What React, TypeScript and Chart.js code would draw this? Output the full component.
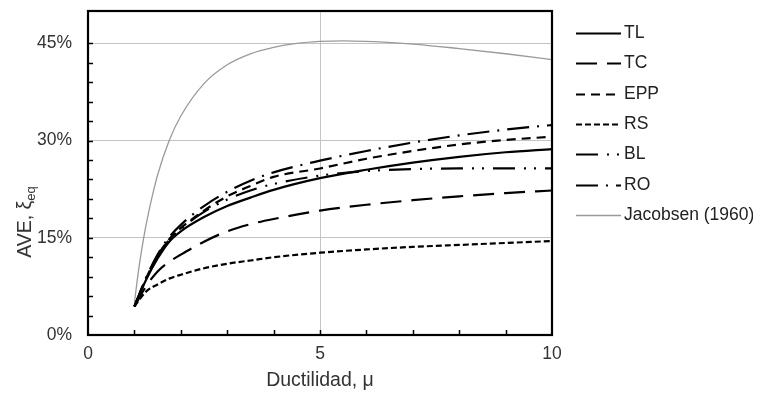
import { useEffect, useRef } from "react";
import { Chart, registerables } from "chart.js";

Chart.register(...registerables);

// ---- data ----
const MU = [1, 1.25, 1.5, 1.75, 2, 2.5, 3, 3.5, 4, 5, 6, 7, 8, 9, 10];
const TL = [4.4, 8.5, 11.8, 14.4, 16.0, 18.2, 19.9, 21.2, 22.4, 24.2, 25.5, 26.6, 27.5, 28.2, 28.7];
const TC = [4.4, 7.5, 9.8, 11.3, 12.4, 14.4, 16.0, 17.1, 17.9, 19.2, 20.1, 20.8, 21.4, 21.9, 22.3];
const EPP = [4.4, 8.7, 12.2, 14.8, 16.5, 19.2, 21.4, 23.0, 24.4, 25.7, 27.2, 28.4, 29.4, 30.1, 30.6];
const RS = [4.4, 6.7, 7.8, 8.7, 9.3, 10.3, 11.0, 11.5, 12.0, 12.7, 13.2, 13.6, 13.9, 14.2, 14.5];
const BL = [4.4, 8.7, 12.2, 14.7, 16.4, 19.0, 20.9, 22.3, 23.3, 24.6, 25.3, 25.6, 25.7, 25.7, 25.7];
const RO = [4.4, 8.8, 12.4, 15.1, 17.0, 19.9, 22.1, 23.8, 25.1, 26.9, 28.4, 29.7, 30.8, 31.7, 32.4];

const MU_J = [1, 1.1, 1.2, 1.3, 1.4, 1.5, 1.75, 2, 2.5, 3, 3.5, 4, 4.5, 5, 5.5, 6, 7, 8, 9, 10];
const JAC = [5.0, 10.5, 15.0, 18.7, 21.9, 24.7, 30.0, 33.8, 38.8, 41.7, 43.4, 44.4, 45.0, 45.3, 45.4, 45.3, 44.9, 44.2, 43.4, 42.5];

const SERIES_NAMES = ["TL", "TC", "EPP", "RS", "BL", "RO", "Jacobsen (1960)"];
const Y_LABELED = [0, 15, 30, 45];
const X_LABELED = [0, 5, 10];
const Y_GRID = [15, 30, 45];
const X_GRID = [5];
const X_TITLE = "Ductilidad, μ";
const Y_TITLE_MAIN = "AVE, ξ";
const Y_TITLE_SUB = "eq";

const FONT = "'Liberation Sans', Arial, sans-serif";
const TEXT = "#333333";
const GRID = "#c4c4c4";

const pts = (xs: number[], ys: number[]) => xs.map((x, i) => ({ x, y: ys[i] }));

const framePlugin = {
  id: "frameAndTicks",
  afterDraw(chart: any) {
    const { ctx, chartArea: a, scales } = chart;
    const xs = scales.x;
    const ys = scales.y;
    ctx.save();
    ctx.strokeStyle = "#000";
    ctx.lineWidth = 1.5;
    ctx.beginPath();
    ys.ticks.forEach((t: any) => {
      if (t.value <= 0 || t.value >= 50) return;
      const y = Math.round(ys.getPixelForValue(t.value)) + 0.5;
      ctx.moveTo(a.left, y);
      ctx.lineTo(a.left + 5, y);
    });
    xs.ticks.forEach((t: any) => {
      if (t.value <= 0 || t.value >= 10) return;
      const x = Math.round(xs.getPixelForValue(t.value)) + 0.5;
      ctx.moveTo(x, a.bottom);
      ctx.lineTo(x, a.bottom - 5);
    });
    ctx.stroke();
    ctx.lineWidth = 2.2;
    ctx.strokeRect(a.left, a.top, a.right - a.left, a.bottom - a.top);

    // axis titles
    ctx.fillStyle = TEXT;
    ctx.textBaseline = "middle";
    ctx.textAlign = "center";
    ctx.font = `19.5px ${FONT}`;
    ctx.fillText(X_TITLE, (a.left + a.right) / 2, 373);

    ctx.translate(16, 214);
    ctx.rotate(-Math.PI / 2);
    ctx.font = `19.5px ${FONT}`;
    const w1 = ctx.measureText(Y_TITLE_MAIN).width;
    ctx.font = `13px ${FONT}`;
    const w2 = ctx.measureText(Y_TITLE_SUB).width;
    const start = -(w1 + w2) / 2;
    ctx.textAlign = "left";
    ctx.textBaseline = "alphabetic";
    ctx.font = `19.5px ${FONT}`;
    ctx.fillText(Y_TITLE_MAIN, start, 7);
    ctx.font = `13px ${FONT}`;
    ctx.fillText(Y_TITLE_SUB, start + w1, 11);
    ctx.restore();

    // legend
    ctx.save();
    chart.data.datasets.forEach((ds: any, i: number) => {
      const y = Math.round(25 + i * 30.3) + 0.5;
      ctx.strokeStyle = ds.borderColor;
      ctx.lineWidth = ds.borderWidth;
      ctx.setLineDash(ds.borderDash || []);
      ctx.lineCap = "butt";
      ctx.beginPath();
      ctx.moveTo(568, y);
      ctx.lineTo(613, y);
      ctx.stroke();
      ctx.setLineDash([]);
      ctx.fillStyle = "#222";
      ctx.font = `17.5px ${FONT}`;
      ctx.textAlign = "left";
      ctx.textBaseline = "middle";
      ctx.fillText(ds.label, 616, y);
    });
    ctx.restore();
  },
};

export default function App() {
  const ref = useRef<HTMLCanvasElement | null>(null);
  useEffect(() => {
    if (!ref.current) return;
    const black = (label: string, data: number[], dash: number[]) => ({
      label,
      data: pts(MU, data),
      borderColor: "#000000",
      backgroundColor: "#000000",
      borderWidth: 2.2,
      borderDash: dash,
      pointRadius: 0,
      fill: false,
      cubicInterpolationMode: "monotone" as const,
    });
    const chart = new Chart(ref.current, {
      type: "line",
      data: {
        datasets: [
          black(SERIES_NAMES[0], TL, []),
          black(SERIES_NAMES[1], TC, [21, 10]),
          black(SERIES_NAMES[2], EPP, [9, 6]),
          black(SERIES_NAMES[3], RS, [6, 3]),
          black(SERIES_NAMES[4], BL, [22, 9, 2, 8, 2, 9]),
          black(SERIES_NAMES[5], RO, [22, 8, 2, 8]),
          {
            label: SERIES_NAMES[6],
            data: pts(MU_J, JAC),
            borderColor: "#9a9a9a",
            backgroundColor: "#9a9a9a",
            borderWidth: 1.3,
            pointRadius: 0,
            fill: false,
            cubicInterpolationMode: "monotone" as const,
          },
        ],
      },
      options: {
        responsive: false,
        animation: false,
        events: [],
        layout: { padding: { top: 3, right: 201, left: 0, bottom: 0 } },
        plugins: { legend: { display: false }, tooltip: { enabled: false }, title: { display: false } },
        scales: {
          x: {
            type: "linear",
            min: 0,
            max: 10,
            afterFit: (s: any) => {
              s.height = 58;
              s.paddingLeft = 0;
              s.paddingRight = 0;
              s.paddingTop = 0;
              s.paddingBottom = 0;
            },
            border: { display: false },
            grid: {
              drawTicks: false,
              lineWidth: 1,
              color: (c: any) => (X_GRID.includes(c.tick?.value) ? GRID : "rgba(0,0,0,0)"),
            },
            ticks: {
              stepSize: 1,
              autoSkip: false,
              maxRotation: 0,
              padding: 9,
              color: TEXT,
              font: { family: FONT, size: 17.5 },
              callback: (v: any) => (X_LABELED.includes(Number(v)) ? String(v) : ""),
            },
          },
          y: {
            type: "linear",
            min: 0,
            max: 50,
            afterFit: (s: any) => {
              s.width = 80;
              s.paddingLeft = 0;
              s.paddingRight = 0;
              s.paddingTop = 0;
              s.paddingBottom = 0;
            },
            border: { display: false },
            grid: {
              drawTicks: false,
              lineWidth: 1,
              color: (c: any) => (Y_GRID.includes(c.tick?.value) ? GRID : "rgba(0,0,0,0)"),
            },
            ticks: {
              stepSize: 3,
              autoSkip: false,
              padding: 16,
              color: TEXT,
              font: { family: FONT, size: 17.5 },
              callback: (v: any) => (Y_LABELED.includes(Number(v)) ? `${v}%` : ""),
            },
          },
        },
      },
      plugins: [framePlugin],
    });
    return () => chart.destroy();
  }, []);
  return <canvas ref={ref} width={745} height={385} style={{ display: "block" }} />;
}
